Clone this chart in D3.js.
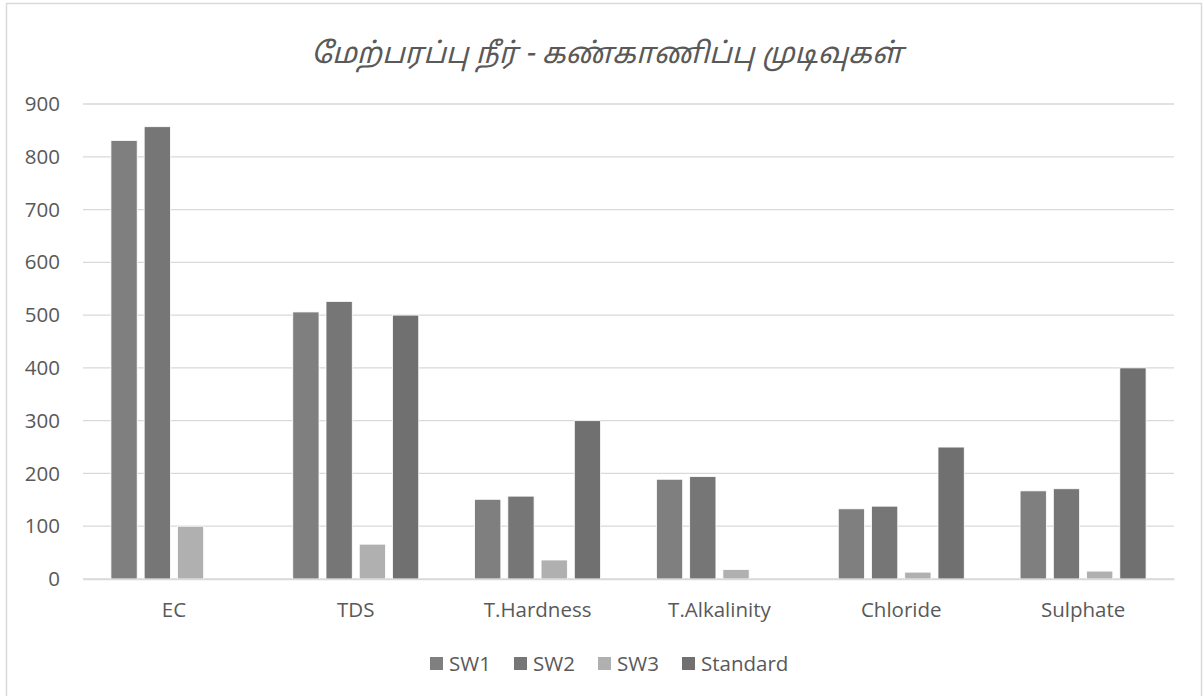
<!DOCTYPE html>
<html><head><meta charset="utf-8">
<script src="https://cdn.jsdelivr.net/npm/d3@7"></script>
<style>
body{margin:0;background:#fff;}
text{font-family:"Open Sans","Noto Sans",sans-serif;}
</style></head><body>
<svg id="c" width="1203" height="696"></svg>
<script>
const title = "மேற்பரப்பு நீர் - கண்காணிப்பு முடிவுகள்";
const categories = ["EC","TDS","T.Hardness","T.Alkalinity","Chloride","Sulphate"];
const seriesNames = ["SW1","SW2","SW3","Standard"];
const sw1 = [831,506,151,189,133,167];
const sw2 = [857,526,157,194,138,171];
const sw3 = [100,66,36,18,13,15];
const standard = [0,500,300,0,250,400];
const yTicks = [0,100,200,300,400,500,600,700,800,900];
const colors = ["#7f7f7f","#767676","#b0b0b0","#707070"];

const seriesVals = [sw1,sw2,sw3,standard];
const svg = d3.select("#c");
svg.append("rect").attr("x",6.5).attr("y",3.5).attr("width",1195).attr("height",695)
  .attr("fill","#fff").attr("stroke","#d9d9d9").attr("stroke-width",1.5);

const L=83,R=1174,T=104,B=579;
const x = d3.scaleBand().domain(categories).range([L,R]).paddingInner(0).paddingOuter(0);
const x1 = d3.scaleBand().domain(seriesNames).range([0,x.bandwidth()]).paddingInner(0.21).paddingOuter(0.84);
const y = d3.scaleLinear().domain([0,900]).range([B,T]);

// gridlines
svg.append("g").selectAll("line").data(yTicks).join("line")
  .attr("x1",L).attr("x2",R).attr("y1",d=>y(d)).attr("y2",d=>y(d))
  .attr("stroke","#d9d9d9").attr("stroke-width",1.3);

// y axis labels
const ya = svg.append("g").attr("transform",`translate(${L},0)`)
  .call(d3.axisLeft(y).tickValues(yTicks).tickSize(0).tickPadding(23));
ya.select(".domain").remove();
ya.selectAll("text").attr("font-size",20.5).attr("fill","#595959").attr("font-family","Open Sans");

// bars
const g = svg.append("g");
categories.forEach((c,i)=>{
  seriesNames.forEach((s,j)=>{
    const v = seriesVals[j][i];
    if(!v) return;
    g.append("rect").attr("x",x(c)+x1(s)).attr("y",y(v))
      .attr("width",x1.bandwidth()).attr("height",y(0)-y(v))
      .attr("fill",colors[j]).attr("stroke","#ffffff").attr("stroke-width",0.8);
  });
});

// x axis
const xa = svg.append("g").attr("transform",`translate(0,${B})`)
  .call(d3.axisBottom(x).tickSize(0).tickPadding(23));
xa.select(".domain").attr("stroke","#d9d9d9").attr("stroke-width",1.3);
xa.selectAll("text").attr("font-size",20.5).attr("fill","#595959").attr("font-family","Open Sans");

// title
svg.append("text").attr("x",607).attr("y",63).attr("text-anchor","middle")
  .attr("font-size",29).attr("fill","#595959").attr("font-style","italic")
  .style("font-family","'Noto Sans Tamil','Lohit Tamil','Noto Sans',sans-serif").text(title);

// legend
const legX = [430,514,598,682];
const lg = svg.append("g");
seriesNames.forEach((s,j)=>{
  lg.append("rect").attr("x",legX[j]).attr("y",657).attr("width",13).attr("height",13).attr("fill",colors[j]);
  lg.append("text").attr("x",legX[j]+19).attr("y",670.5).attr("font-size",20.5).attr("fill","#595959").text(s);
});
</script>
</body></html>
